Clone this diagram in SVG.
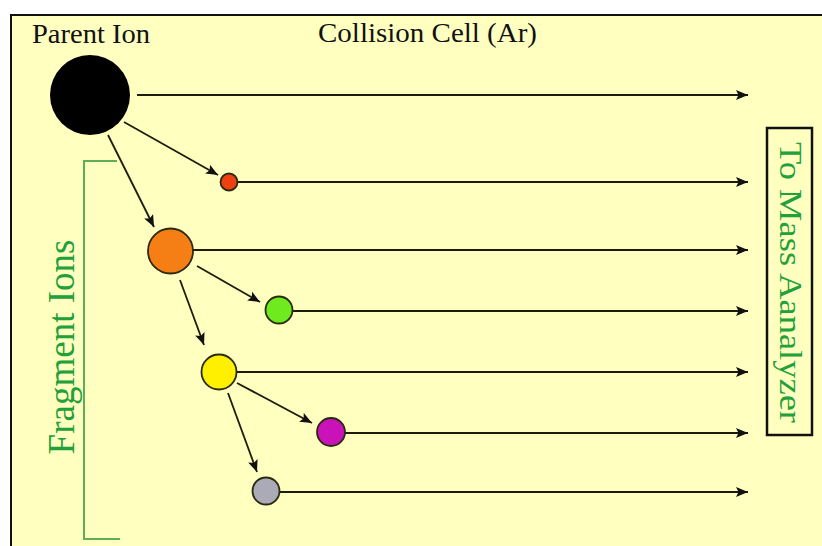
<svg xmlns="http://www.w3.org/2000/svg" width="822" height="546" viewBox="0 0 822 546">
  <style>
    .lbl { font-family: "Liberation Serif", "Times New Roman", serif; fill: #111; }
    .grn { font-family: "Liberation Serif", "Times New Roman", serif; fill: #22A03A; }
    .ion { stroke: #2a2a10; stroke-width: 1.8; }
    .conn line { stroke: #1c1c08; stroke-width: 1.8; marker-end: url(#ah); }
    .brk { fill: none; stroke: #5FAE55; stroke-width: 2; }
  </style>
  <defs>
    <marker id="ah" markerUnits="userSpaceOnUse" markerWidth="13" markerHeight="11" refX="12" refY="5" orient="auto">
      <path d="M0,0 L12,5 L0,10 L2.5,5 z" fill="#111"/>
    </marker>
  </defs>
  <rect x="0" y="0" width="822" height="546" fill="#ffffff"/>
  <rect x="11" y="15" width="830" height="550" fill="#FFFFC0" stroke="#111" stroke-width="2"/>

  <g id="title-parent"><text class="lbl" x="32" y="43" font-size="28" textLength="118" lengthAdjust="spacingAndGlyphs">Parent Ion</text></g>
  <g id="title-cell"><text class="lbl" x="318" y="42" font-size="28" textLength="219" lengthAdjust="spacingAndGlyphs">Collision Cell (Ar)</text></g>

  <g id="fragment-bracket">
    <polyline class="brk" points="117,161 84,161 84,539 120,539"/>
    <text class="grn" transform="translate(74,347) rotate(-90)" text-anchor="middle" font-size="37">Fragment Ions</text>
  </g>

  <g id="mass-analyzer">
    <rect x="767" y="128" width="45" height="307" fill="none" stroke="#111" stroke-width="2.5"/>
    <text class="grn" transform="translate(780,142) rotate(90)" font-size="32" textLength="281" lengthAdjust="spacingAndGlyphs">To Mass Aanalyzer</text>
  </g>

  <g id="connectors" class="conn">
    <line x1="137" y1="95" x2="748" y2="95"/>
    <line x1="238" y1="182" x2="748" y2="182"/>
    <line x1="193" y1="250" x2="748" y2="250"/>
    <line x1="293" y1="311" x2="748" y2="311"/>
    <line x1="237" y1="372" x2="748" y2="372"/>
    <line x1="345" y1="433" x2="748" y2="433"/>
    <line x1="280" y1="492" x2="748" y2="492"/>
    <line x1="124" y1="122" x2="218" y2="175"/>
    <line x1="108" y1="135" x2="154" y2="227"/>
    <line x1="197" y1="266" x2="260" y2="302"/>
    <line x1="180" y1="280" x2="204" y2="345"/>
    <line x1="237" y1="383" x2="312" y2="423"/>
    <line x1="228" y1="393" x2="257" y2="472"/>
  </g>

  <g id="parent-ion"><circle cx="90" cy="95" r="40" fill="#000000"/></g>
  <g id="ion-red"><circle class="ion" cx="229" cy="182" r="8.5" fill="#EE4010"/></g>
  <g id="ion-orange"><circle class="ion" cx="170.5" cy="251" r="22.5" fill="#F57F15"/></g>
  <g id="ion-green"><circle class="ion" cx="279" cy="310" r="13.5" fill="#6EEA1E"/></g>
  <g id="ion-yellow"><circle class="ion" cx="219" cy="372" r="17.5" fill="#FFF000"/></g>
  <g id="ion-magenta"><circle class="ion" cx="331" cy="432" r="14" fill="#C912B8"/></g>
  <g id="ion-gray"><circle class="ion" cx="266" cy="491" r="13.5" fill="#ABABB8"/></g>
</svg>
